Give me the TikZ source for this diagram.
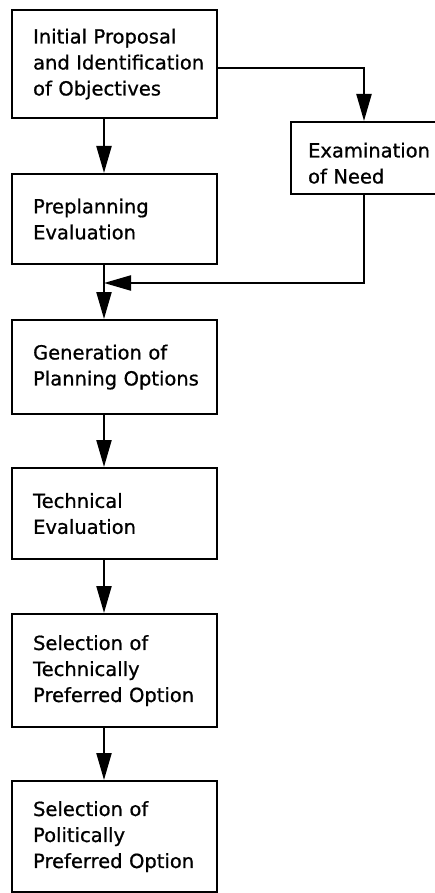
\documentclass[tikz,border=0pt]{standalone}
\usepackage{fontspec}
\setmainfont{DejaVu Sans}[FakeBold=0.8]
\usetikzlibrary{arrows.meta}
\hfuzz=30pt
\begin{document}
\begin{tikzpicture}[x=1pt,y=-1pt,
  box/.style={draw, line width=2.2pt, rectangle, anchor=north west,
    inner xsep=21pt, inner ysep=0pt, align=left,
    text width=163pt, minimum width=205pt,
    execute at begin node={\hyphenpenalty=10000\exhyphenpenalty=10000},
    font=\fontsize{19.5}{26}\selectfont},
  arr/.style={line width=2.2pt, -{Triangle[length=27pt,width=15pt]}}]
  \useasboundingbox (0,0) rectangle (435,893);

  % main column of stages
  \node[box, minimum height=108pt] (b1) at (11,9)
    {Initial~Proposal\\and~Identification\\of~Objectives};
  \node[box, minimum height=90pt] (b2) at (11,173)
    {Preplanning\\Evaluation};
  \node[box, minimum height=94pt] (b3) at (11,319)
    {Generation~of\\Planning~Options};
  \node[box, minimum height=91pt] (b4) at (11,467)
    {Technical\\Evaluation};
  \node[box, minimum height=113pt] (b5) at (11,613)
    {Selection~of\\Technically\\Preferred~Option};
  \node[box, minimum height=111pt] (b6) at (11,780)
    {Selection~of\\Politically\\Preferred~Option};

  % side branch, running off the right edge; the strut sets its text a little low
  \node[box, minimum height=72pt, inner xsep=17pt, text width=126pt, minimum width=160pt] (exam) at (290,121)
    {\rule{0pt}{25pt}Examination\\of~Need};

  % routing points
  \coordinate (spine) at (104,0);
  \coordinate (turn) at (364,68);
  \coordinate (join) at (104,283);

  \draw[arr] (spine |- b1.south) -- (spine |- b2.north);
  \draw[arr] (b1.east |- turn) -- (turn) -- (turn |- exam.north);
  \draw[arr] (turn |- exam.south) |- (join);
  \draw[arr] (spine |- b2.south) -- (spine |- b3.north);
  \draw[arr] (spine |- b3.south) -- (spine |- b4.north);
  \draw[arr] (spine |- b4.south) -- (spine |- b5.north);
  \draw[arr] (spine |- b5.south) -- (spine |- b6.north);
\end{tikzpicture}
\end{document}
